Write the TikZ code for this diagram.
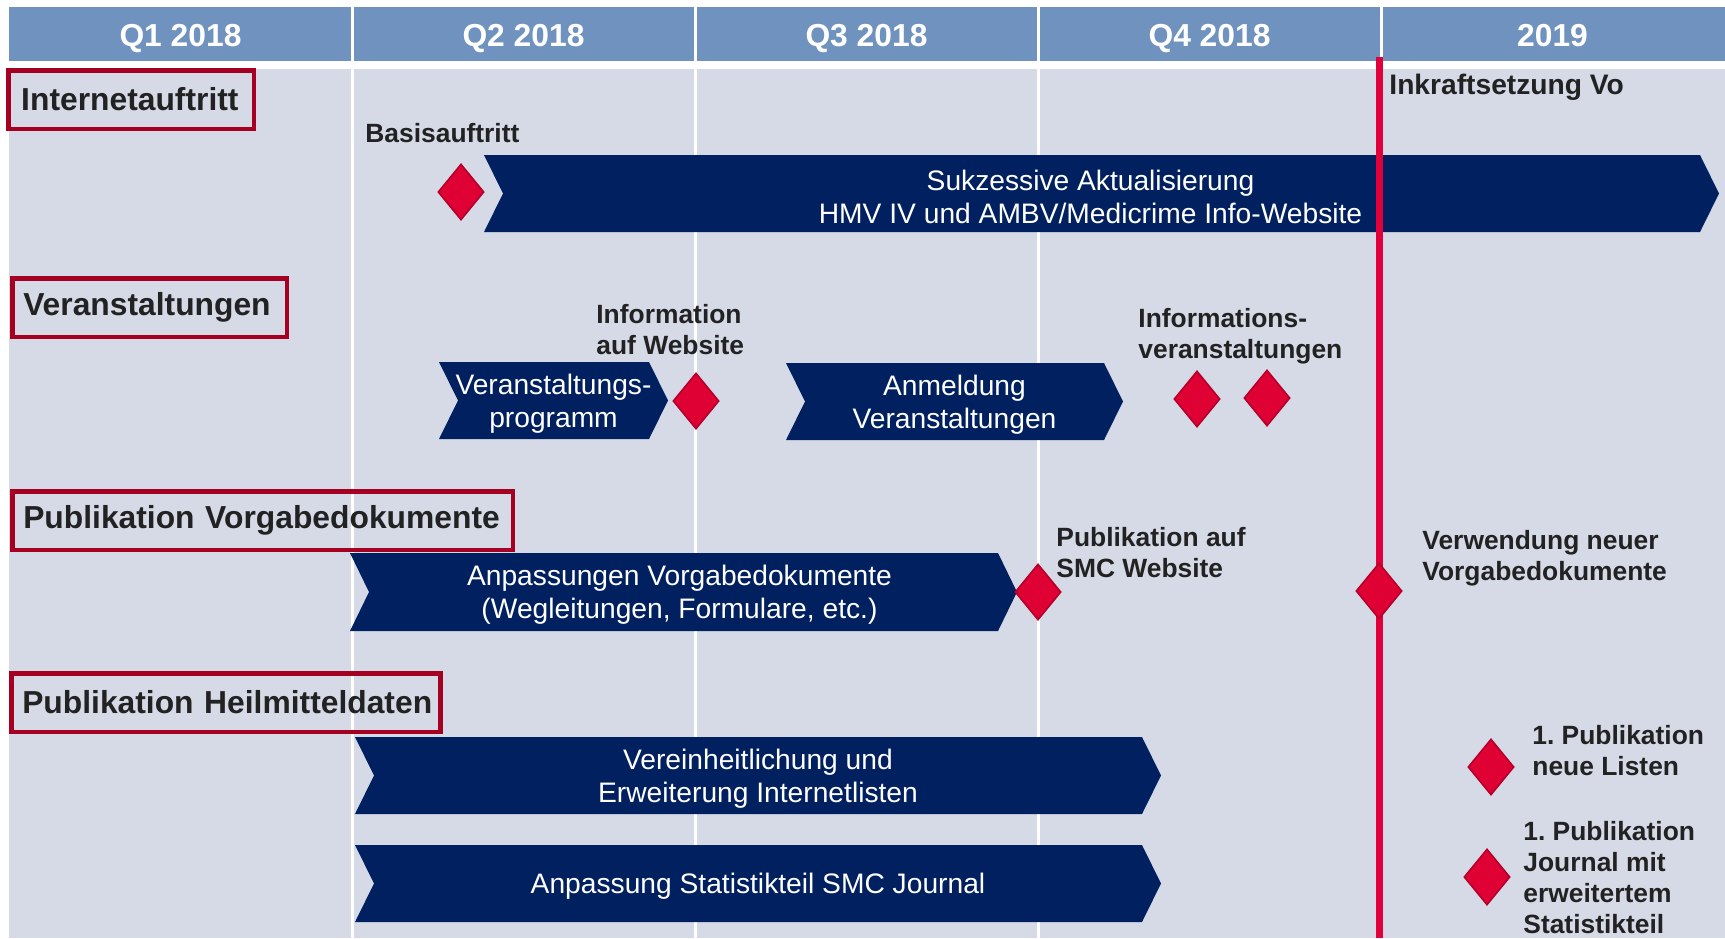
\documentclass[tikz,border=0pt]{standalone}
\usepackage{fontspec}
\setmainfont{Liberation Sans}
\usetikzlibrary{shapes.geometric}
\definecolor{hdrblue}{HTML}{7092BE}
\definecolor{bodygrey}{HTML}{D5DAE6}
\definecolor{barblue}{HTML}{00205F}
\definecolor{catred}{HTML}{A50021}
\definecolor{msred}{HTML}{DF0034}
\definecolor{msdark}{HTML}{B4002B}
\definecolor{vored}{HTML}{E2003A}
\definecolor{txtdark}{HTML}{222222}
\frenchspacing
\def\colw{343}
\def\tip{19}
\tikzset{
  catbox/.style={draw=catred,line width=2.25pt,anchor=north west,inner xsep=5.5pt,
    inner ysep=0pt,minimum height=29.25pt,text width=#1,align=left,text=txtdark,
    font=\bfseries\fontsize{15.9}{19}\selectfont},
  hdr/.style={text=white,anchor=base,font=\bfseries\fontsize{15.9}{19}\selectfont},
  bartext/.style={text=white,align=center,inner sep=0pt,
    font=\fontsize{14.1}{16.5}\selectfont},
  note/.style={text=txtdark,align=left,anchor=west,inner sep=0pt,
    font=\bfseries\fontsize{13.2}{15.5}\selectfont},
  milestone/.style={diamond,fill=msred,draw=msdark,line width=0.8pt,inner sep=0pt,
    minimum width=23pt,minimum height=28pt}
}
% chevron bar: [text shift], name, left x, tip x, top y, bottom y, text
\newcommand\chevron[7][0]{%
  \fill[barblue] (#3,#5) -- (#4-\tip,#5) -- (#4,{(#5+#6)/2}) -- (#4-\tip,#6)
    -- (#3,#6) -- (#3+\tip,{(#5+#6)/2}) -- cycle;
  \node[bartext] (#2) at ({(#3+#4)/2+#1},{(#5+#6)/2+3}) {#7};}

\begin{document}
\begin{tikzpicture}[x=0.5pt,y=-0.5pt]
\useasboundingbox (0,0) rectangle (1725,938);
\fill[white] (0,0) rectangle (1725,938);
% header and columns
\fill[hdrblue] (9,7) rectangle (1725,61);
\fill[bodygrey] (9,69) rectangle (1725,938);
\foreach \i in {1,...,4} {
  \draw[white,line width=1.5pt] (9+\i*\colw,7) -- (9+\i*\colw,938);
}
\foreach \lab [count=\i from 0] in {Q1 2018,Q2 2018,Q3 2018,Q4 2018,2019} {
  \node[hdr] (q\i) at (9+\i*\colw+\colw/2,46) {\lab};
}

% categories
\node[catbox=109.75pt,inner xsep=6.5pt] (web) at (6,68) {\mbox{Internetauftritt}};
\node[catbox=126.25pt] (events) at (10,276) {\mbox{Veranstaltungen}};
\node[catbox=239.25pt] (docs) at (10,489) {\mbox{Publikation Vorgabedokumente}};
\node[catbox=203.5pt] (data) at (9,671) {\mbox{Publikation Heilmitteldaten}};

% bars
\chevron[-11]{update}{484}{1719}{155}{232}{Sukzessive Aktualisierung\\HMV IV und AMBV/Medicrime Info-Website}
\chevron{program}{439}{668}{362}{439}{Veranstaltungs-\\programm}
\chevron{signup}{786}{1123}{363}{440}{Anmeldung\\Veranstaltungen}
\chevron[-4]{adapt}{350}{1017}{553}{631}{Anpassungen Vorgabedokumente\\(Wegleitungen, Formulare, etc.)}
\chevron{lists}{355}{1161}{737}{814}{Vereinheitlichung und\\Erweiterung Internetlisten}
\chevron{stats}{355}{1161}{845}{922}{Anpassung Statistikteil SMC Journal}

% entry into force
\coordinate (vo top) at (1379,57);
\coordinate (vo bot) at (1379,938);
\draw[vored,line width=3.5pt] (vo top) -- (vo bot);
\node[note,font=\bfseries\fontsize{14.1}{16.5}\selectfont] (vo) at (1389,87) {Inkraftsetzung Vo};

% milestones
\node[milestone] (ms1) at (461,192) {};
\node[milestone] (ms2) at (696,401) {};
\node[milestone] (ms3) at (1197,399) {};
\node[milestone] (ms4) at (1267,398) {};
\node[milestone] (ms5) at (1038,592) {};
\node[milestone] (ms6) at (1379,591) {};
\node[milestone] (ms7) at (1491,767) {};
\node[milestone] (ms8) at (1487,877) {};

\node[note] (basis) at (365,133) {Basisauftritt};
\node[note] (infoweb) at (596,330) {Information\\auf Website};
\node[note] (infoev) at (1138,336) {Informations-\\veranstaltungen};
\node[note] (pubsmc) at (1056,553) {Publikation auf\\SMC Website};
\node[note] (usedocs) at (1422,558) {Verwendung neuer\\Vorgabedokumente};
\node[note] (publists) at (1532,751) {1. Publikation\\neue Listen};
\node[note] (pubjournal) at (1523,878) {1. Publikation\\Journal mit\\erweitertem\\Statistikteil};
\end{tikzpicture}
\end{document}
